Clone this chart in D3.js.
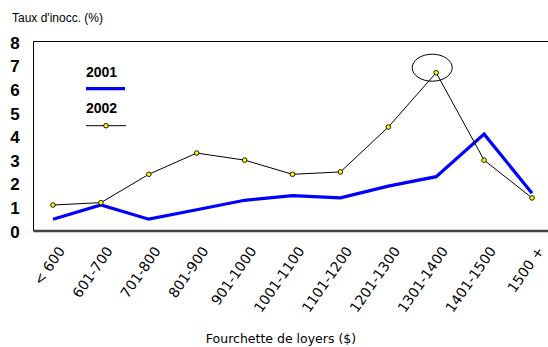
<!DOCTYPE html>
<html><head><meta charset="utf-8">
<script src="https://cdn.jsdelivr.net/npm/d3@7"></script>
<style>body{margin:0;background:#fff}svg{display:block}</style>
</head><body>
<svg id="c" width="548" height="347"></svg>
<script>
const categories = ["< 600","601-700","701-800","801-900","901-1000","1001-1100","1101-1200","1201-1300","1301-1400","1401-1500","1500 +"];
const values2001 = [0.5,1.1,0.5,0.9,1.3,1.5,1.4,1.9,2.3,4.1,1.6];
const values2002 = [1.1,1.2,2.4,3.3,3.0,2.4,2.5,4.4,6.7,3.0,1.4];
const yTicks = [0,1,2,3,4,5,6,7,8];
const seriesNames = ["2001","2002"];
const yTitle = "Taux d'inocc. (%)";
const xTitle = "Fourchette de loyers ($)";
const highlight = "1301-1400";

const svg = d3.select("#c");
const plot = {left:33.5, right:548, top:41.5, bottom:231};
const x = d3.scalePoint().domain(categories).range([53, 532]);
const y = d3.scaleLinear().domain([0,8]).range([231, 42]);

// frame: left + top
svg.append("line").attr("x1",plot.left).attr("x2",plot.left).attr("y1",plot.top).attr("y2",plot.bottom).attr("stroke","#000");
svg.append("line").attr("x1",plot.left).attr("x2",plot.right).attr("y1",plot.top).attr("y2",plot.top).attr("stroke","#000");

// y axis labels
const ya = svg.append("g").attr("transform","translate(15,0)")
  .call(d3.axisLeft(y).tickValues(yTicks).tickSize(0).tickPadding(0).tickFormat(d3.format("d")));
ya.select(".domain").remove();
ya.selectAll("text").attr("text-anchor","middle").attr("font-family","Liberation Sans, Arial, sans-serif")
  .attr("font-weight","bold").attr("font-size",17).attr("fill","#000").attr("dy","0.36em");

// x axis
const xa = svg.append("g").attr("transform",`translate(0,${plot.bottom})`)
  .call(d3.axisBottom(x).tickSize(0).tickPadding(0));
xa.select(".domain").attr("d",`M${plot.left},0H${plot.right}`).attr("stroke","#444").attr("stroke-width",2.5);
xa.selectAll("text").attr("font-family","DejaVu Sans, sans-serif").attr("font-size",14).attr("fill","#000")
  .attr("text-anchor","end").attr("dy",null).attr("y",0)
  .attr("transform","translate(12,20) rotate(-55)");

// titles
svg.append("text").attr("x",12).attr("y",22).text(yTitle)
  .attr("font-family","Liberation Sans, Arial, sans-serif").attr("font-size",12);
svg.append("text").attr("x",281).attr("y",343).attr("text-anchor","middle").text(xTitle)
  .attr("font-family","DejaVu Sans, sans-serif").attr("font-size",12.5);

// lines
const line = d3.line().x((d,i)=>x(categories[i])).y(d=>y(d));
svg.append("path").datum(values2001).attr("d",line).attr("fill","none").attr("stroke","#0000ff").attr("stroke-width",3.2).attr("stroke-linejoin","miter");
svg.append("path").datum(values2002).attr("d",line).attr("fill","none").attr("stroke","#000").attr("stroke-width",1);
svg.append("g").selectAll("circle").data(values2002).join("circle")
  .attr("cx",(d,i)=>x(categories[i])).attr("cy",d=>y(d)).attr("r",2.3)
  .attr("fill","#ffff00").attr("stroke","#000").attr("stroke-width",0.9);

// highlight ellipse
const hi = categories.indexOf(highlight);
svg.append("ellipse").attr("cx",x(highlight)-4).attr("cy",y(values2002[hi])-5).attr("rx",20).attr("ry",13.5)
  .attr("fill","none").attr("stroke","#000").attr("stroke-width",1);

// legend
const lg = svg.append("g");
lg.append("text").attr("x",86).attr("y",77).text(seriesNames[0]).attr("font-family","Liberation Sans, Arial, sans-serif").attr("font-weight","bold").attr("font-size",14);
lg.append("line").attr("x1",86).attr("x2",125).attr("y1",88.7).attr("y2",88.7).attr("stroke","#0000ff").attr("stroke-width",3.2);
lg.append("text").attr("x",86).attr("y",113).text(seriesNames[1]).attr("font-family","Liberation Sans, Arial, sans-serif").attr("font-weight","bold").attr("font-size",14);
lg.append("line").attr("x1",86).attr("x2",126).attr("y1",125.7).attr("y2",125.7).attr("stroke","#000").attr("stroke-width",1);
lg.append("circle").attr("cx",106).attr("cy",125.7).attr("r",2.3).attr("fill","#ffff00").attr("stroke","#000").attr("stroke-width",0.9);
</script>
</body></html>
